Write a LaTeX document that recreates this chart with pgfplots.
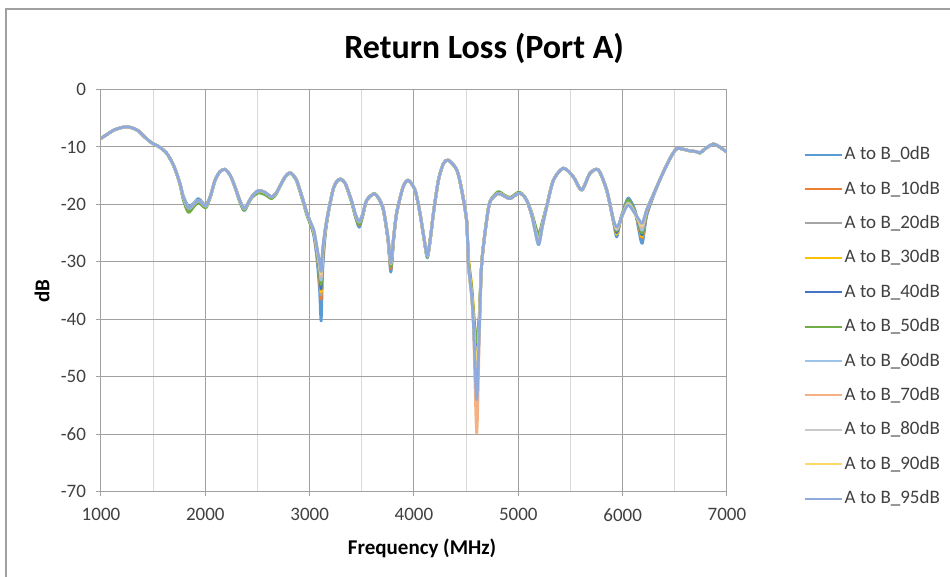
\documentclass[border=0pt]{standalone}
\usepackage{pgfplots}
\pgfplotsset{compat=1.18}
\usepackage{pgfplotstable}
\usepackage{fontspec}
\setmainfont{Carlito}
\definecolor{c0}{HTML}{5B9BD5}
\definecolor{c10}{HTML}{ED7D31}
\definecolor{c20}{HTML}{A5A5A5}
\definecolor{c30}{HTML}{FFC000}
\definecolor{c40}{HTML}{4472C4}
\definecolor{c50}{HTML}{70AD47}
\definecolor{c60}{HTML}{9DC3E6}
\definecolor{c70}{HTML}{F4B183}
\definecolor{c80}{HTML}{C9C9C9}
\definecolor{c90}{HTML}{FFD966}
\definecolor{c95}{HTML}{8FAADC}
\definecolor{gmaj}{HTML}{A0A0A0}
\definecolor{gmin}{HTML}{D9D9D9}
\definecolor{txt}{HTML}{404040}
\pgfplotstableread{
f a0 a10 a20 a30 a40 a50 a60 a70 a80 a90 a95
1000 -8.5 -8.5 -8.5 -8.5 -8.5 -8.5 -8.5 -8.5 -8.5 -8.5 -8.5
1060 -7.8 -7.8 -7.8 -7.8 -7.8 -7.8 -7.8 -7.8 -7.8 -7.8 -7.8
1120 -7.1 -7.1 -7.1 -7.1 -7.1 -7.1 -7.1 -7.1 -7.1 -7.1 -7.1
1180 -6.7 -6.7 -6.7 -6.7 -6.7 -6.7 -6.7 -6.7 -6.7 -6.7 -6.7
1246 -6.5 -6.5 -6.5 -6.5 -6.5 -6.5 -6.5 -6.5 -6.5 -6.5 -6.5
1300 -6.7 -6.7 -6.7 -6.7 -6.7 -6.7 -6.7 -6.7 -6.7 -6.7 -6.7
1358 -7.2 -7.2 -7.2 -7.2 -7.2 -7.2 -7.2 -7.2 -7.2 -7.2 -7.2
1420 -8.3 -8.3 -8.3 -8.3 -8.3 -8.3 -8.3 -8.3 -8.3 -8.3 -8.3
1486 -9.3 -9.3 -9.3 -9.3 -9.3 -9.3 -9.3 -9.3 -9.3 -9.3 -9.3
1540 -9.8 -9.8 -9.8 -9.8 -9.8 -9.8 -9.8 -9.8 -9.8 -9.8 -9.8
1582 -10.3 -10.3 -10.3 -10.3 -10.3 -10.3 -10.3 -10.3 -10.3 -10.3 -10.3
1625 -11.0 -11.0 -11.0 -11.0 -11.0 -11.0 -11.0 -11.0 -11.0 -11.0 -11.0
1661 -12.0 -12.0 -12.0 -12.0 -12.0 -12.0 -12.0 -12.0 -12.0 -12.0 -12.0
1695 -13.2 -13.2 -13.2 -13.2 -13.2 -13.2 -13.2 -13.2 -13.2 -13.2 -13.2
1725 -14.6 -14.6 -14.6 -14.6 -14.6 -14.7 -14.6 -14.6 -14.6 -14.6 -14.6
1760 -16.6 -16.7 -16.6 -16.6 -16.6 -16.8 -16.6 -16.6 -16.6 -16.6 -16.6
1789 -18.5 -19.0 -18.8 -18.8 -18.8 -19.2 -18.7 -18.7 -18.7 -18.7 -18.7
1837 -20.3 -21.0 -20.7 -20.8 -20.8 -21.4 -20.7 -20.6 -20.6 -20.6 -20.6
1890 -19.8 -20.1 -20.0 -20.0 -20.0 -20.4 -20.0 -20.0 -20.0 -20.0 -20.0
1933 -19.0 -19.4 -19.3 -19.3 -19.3 -19.7 -19.3 -19.3 -19.3 -19.3 -19.3
1970 -19.6 -19.9 -19.8 -19.8 -19.8 -20.2 -19.8 -19.8 -19.8 -19.8 -19.8
2006 -20.1 -20.4 -20.3 -20.3 -20.3 -20.6 -20.3 -20.3 -20.3 -20.3 -20.3
2050 -18.5 -18.5 -18.5 -18.5 -18.5 -18.7 -18.5 -18.5 -18.5 -18.5 -18.5
2093 -15.8 -15.8 -15.8 -15.8 -15.8 -15.9 -15.8 -15.8 -15.8 -15.8 -15.8
2140 -14.3 -14.3 -14.3 -14.3 -14.3 -14.3 -14.3 -14.3 -14.3 -14.3 -14.3
2189 -13.9 -13.9 -13.9 -13.9 -13.9 -13.9 -13.9 -13.9 -13.9 -13.9 -13.9
2240 -15.0 -15.0 -15.0 -15.0 -15.0 -15.0 -15.0 -15.0 -15.0 -15.0 -15.0
2285 -17.0 -17.0 -17.0 -17.0 -17.0 -17.1 -17.0 -17.0 -17.0 -17.0 -17.0
2330 -19.4 -19.3 -19.3 -19.3 -19.3 -19.6 -19.3 -19.3 -19.3 -19.3 -19.3
2371 -21.1 -20.9 -20.8 -20.8 -20.8 -21.0 -20.7 -20.7 -20.7 -20.7 -20.7
2410 -19.9 -19.8 -19.8 -19.8 -19.8 -20.0 -19.8 -19.8 -19.8 -19.8 -19.8
2444 -18.7 -18.7 -18.7 -18.7 -18.7 -18.9 -18.7 -18.7 -18.7 -18.7 -18.7
2508 -17.6 -17.7 -17.6 -17.6 -17.6 -18.0 -17.6 -17.6 -17.6 -17.6 -17.6
2570 -17.9 -18.0 -17.9 -17.9 -17.9 -18.3 -17.9 -17.9 -17.9 -17.9 -17.9
2636 -18.7 -18.8 -18.7 -18.7 -18.7 -19.0 -18.7 -18.7 -18.7 -18.7 -18.7
2680 -18.0 -18.0 -18.0 -18.0 -18.0 -18.2 -18.0 -18.0 -18.0 -18.0 -18.0
2716 -16.8 -16.8 -16.8 -16.8 -16.8 -16.9 -16.8 -16.8 -16.8 -16.8 -16.8
2765 -15.2 -15.2 -15.2 -15.2 -15.2 -15.3 -15.2 -15.2 -15.2 -15.2 -15.2
2812 -14.5 -14.5 -14.5 -14.5 -14.5 -14.6 -14.5 -14.5 -14.5 -14.5 -14.5
2870 -15.6 -15.6 -15.6 -15.6 -15.6 -15.8 -15.6 -15.6 -15.6 -15.6 -15.6
2927 -18.7 -18.8 -18.7 -18.7 -18.7 -19.0 -18.7 -18.7 -18.7 -18.7 -18.7
2970 -21.5 -21.4 -21.3 -21.3 -21.3 -21.7 -21.3 -21.3 -21.3 -21.3 -21.3
3005 -23.3 -23.2 -23.1 -23.1 -23.1 -23.4 -23.0 -23.0 -23.0 -23.0 -23.0
3040 -25.5 -25.0 -24.9 -24.9 -24.8 -25.0 -24.7 -24.6 -24.6 -24.6 -24.5
3070 -29.5 -28.7 -28.5 -28.4 -28.2 -28.1 -27.9 -27.7 -27.6 -27.5 -27.5
3095 -35.0 -32.8 -32.4 -32.1 -31.8 -31.4 -31.0 -30.6 -30.4 -30.3 -30.1
3110 -40.3 -36.5 -35.8 -35.3 -34.7 -34.0 -33.2 -32.5 -32.2 -32.0 -31.7
3125 -31.5 -29.8 -29.5 -29.3 -29.1 -28.8 -28.5 -28.2 -28.0 -27.9 -27.8
3150 -25.3 -24.8 -24.7 -24.6 -24.5 -24.5 -24.4 -24.3 -24.2 -24.2 -24.2
3180 -21.5 -21.3 -21.2 -21.2 -21.2 -21.2 -21.2 -21.2 -21.2 -21.2 -21.2
3225 -17.4 -17.4 -17.4 -17.4 -17.4 -17.4 -17.4 -17.4 -17.4 -17.4 -17.4
3260 -16.0 -16.0 -16.0 -16.0 -16.0 -16.1 -16.0 -16.0 -16.0 -16.0 -16.0
3295 -15.6 -15.6 -15.6 -15.6 -15.6 -15.7 -15.6 -15.6 -15.6 -15.6 -15.6
3340 -16.3 -16.3 -16.3 -16.3 -16.3 -16.4 -16.3 -16.3 -16.3 -16.3 -16.3
3400 -19.3 -19.3 -19.3 -19.3 -19.3 -19.6 -19.3 -19.3 -19.3 -19.3 -19.3
3440 -22.2 -22.0 -21.9 -21.9 -21.9 -22.2 -21.8 -21.8 -21.8 -21.8 -21.8
3475 -24.0 -23.6 -23.3 -23.3 -23.3 -23.5 -23.1 -23.0 -23.0 -23.0 -23.0
3510 -21.9 -21.8 -21.7 -21.7 -21.7 -21.9 -21.6 -21.6 -21.6 -21.6 -21.6
3546 -19.3 -19.3 -19.3 -19.3 -19.3 -19.4 -19.3 -19.3 -19.3 -19.3 -19.3
3625 -18.2 -18.2 -18.2 -18.2 -18.2 -18.1 -18.2 -18.2 -18.2 -18.2 -18.2
3700 -20.6 -20.5 -20.4 -20.4 -20.4 -20.5 -20.4 -20.4 -20.4 -20.4 -20.4
3750 -26.2 -26.0 -25.8 -25.8 -25.8 -25.9 -25.7 -25.7 -25.7 -25.7 -25.7
3778 -31.8 -31.2 -30.8 -30.7 -30.6 -30.8 -30.4 -30.3 -30.2 -30.2 -30.2
3805 -26.3 -26.0 -25.8 -25.8 -25.8 -25.9 -25.7 -25.7 -25.7 -25.7 -25.7
3834 -21.5 -21.5 -21.5 -21.5 -21.5 -21.5 -21.5 -21.5 -21.5 -21.5 -21.5
3895 -17.0 -17.0 -17.0 -17.0 -17.0 -17.0 -17.0 -17.0 -17.0 -17.0 -17.0
3945 -15.8 -15.8 -15.8 -15.8 -15.8 -15.9 -15.8 -15.8 -15.8 -15.8 -15.8
4010 -17.5 -17.5 -17.5 -17.5 -17.5 -17.6 -17.5 -17.5 -17.5 -17.5 -17.5
4058 -21.6 -21.6 -21.6 -21.6 -21.6 -21.7 -21.6 -21.6 -21.6 -21.6 -21.6
4095 -25.8 -25.8 -25.8 -25.8 -25.8 -25.9 -25.8 -25.8 -25.8 -25.8 -25.8
4128 -29.3 -29.1 -29.0 -29.0 -29.0 -29.2 -29.0 -29.0 -29.0 -29.0 -29.0
4160 -25.5 -25.5 -25.5 -25.5 -25.5 -25.6 -25.5 -25.5 -25.5 -25.5 -25.5
4186 -21.6 -21.6 -21.6 -21.6 -21.6 -21.6 -21.6 -21.6 -21.6 -21.6 -21.6
4234 -15.8 -15.8 -15.8 -15.8 -15.8 -15.8 -15.8 -15.8 -15.8 -15.8 -15.8
4282 -12.9 -12.9 -12.9 -12.9 -12.9 -12.9 -12.9 -12.9 -12.9 -12.9 -12.9
4330 -12.3 -12.3 -12.3 -12.3 -12.3 -12.3 -12.3 -12.3 -12.3 -12.3 -12.3
4410 -14.0 -14.0 -14.0 -14.0 -14.0 -14.0 -14.0 -14.0 -14.0 -14.0 -14.0
4457 -17.5 -17.5 -17.5 -17.4 -17.5 -17.4 -17.5 -17.5 -17.5 -17.5 -17.5
4505 -23.0 -23.0 -22.9 -22.7 -22.9 -22.8 -23.0 -23.0 -23.0 -23.0 -23.0
4521 -30.3 -30.0 -29.8 -29.0 -29.9 -29.4 -30.3 -30.3 -30.3 -30.3 -30.3
4553 -36.0 -35.6 -35.2 -34.0 -35.4 -34.6 -36.0 -36.0 -36.0 -36.0 -36.0
4570 -40.5 -40.0 -39.3 -38.0 -39.6 -38.8 -40.8 -41.0 -40.5 -40.5 -40.8
4601 -50.0 -48.0 -47.0 -45.0 -46.0 -44.0 -52.0 -59.8 -51.0 -49.0 -54.0
4625 -41.5 -41.0 -40.5 -40.0 -40.5 -39.5 -42.0 -44.0 -41.8 -41.5 -42.5
4649 -30.3 -30.3 -30.3 -30.3 -30.3 -30.2 -30.3 -30.3 -30.3 -30.3 -30.3
4697 -22.7 -22.7 -22.7 -22.7 -22.7 -22.6 -22.7 -22.7 -22.7 -22.7 -22.7
4730 -19.5 -19.5 -19.5 -19.5 -19.5 -19.4 -19.5 -19.5 -19.5 -19.5 -19.5
4805 -18.1 -18.1 -18.1 -18.1 -18.1 -17.8 -18.1 -18.1 -18.1 -18.1 -18.1
4860 -18.5 -18.5 -18.5 -18.5 -18.5 -18.3 -18.5 -18.5 -18.5 -18.5 -18.5
4920 -19.0 -19.0 -19.0 -19.0 -19.0 -18.8 -19.0 -19.0 -19.0 -19.0 -19.0
4997 -18.1 -18.1 -18.1 -18.1 -18.1 -17.9 -18.1 -18.1 -18.1 -18.1 -18.1
5040 -18.3 -18.3 -18.3 -18.3 -18.3 -18.2 -18.3 -18.3 -18.3 -18.3 -18.3
5080 -19.3 -19.3 -19.3 -19.3 -19.3 -19.2 -19.3 -19.3 -19.3 -19.3 -19.3
5128 -21.9 -21.8 -21.6 -21.7 -21.7 -21.4 -21.8 -21.8 -21.8 -21.8 -21.8
5192 -27.0 -26.0 -25.6 -25.8 -25.9 -25.2 -26.2 -26.4 -26.6 -26.7 -26.8
5230 -24.0 -23.5 -23.3 -23.4 -23.4 -23.0 -23.6 -23.7 -23.8 -23.8 -23.8
5272 -20.4 -20.4 -20.4 -20.4 -20.4 -20.2 -20.4 -20.4 -20.4 -20.4 -20.4
5336 -15.8 -15.8 -15.8 -15.8 -15.8 -15.8 -15.8 -15.8 -15.8 -15.8 -15.8
5431 -13.7 -13.7 -13.7 -13.7 -13.7 -13.7 -13.7 -13.7 -13.7 -13.7 -13.7
5527 -15.2 -15.2 -15.2 -15.2 -15.2 -15.2 -15.2 -15.2 -15.2 -15.2 -15.2
5607 -17.5 -17.5 -17.5 -17.5 -17.5 -17.5 -17.5 -17.5 -17.5 -17.5 -17.5
5687 -14.6 -14.6 -14.6 -14.6 -14.6 -14.6 -14.6 -14.6 -14.6 -14.6 -14.6
5767 -14.0 -14.0 -14.0 -14.0 -14.0 -14.0 -14.0 -14.0 -14.0 -14.0 -14.0
5847 -17.5 -17.5 -17.5 -17.5 -17.5 -17.6 -17.5 -17.5 -17.5 -17.5 -17.5
5911 -23.0 -22.8 -22.8 -22.9 -22.8 -22.7 -22.7 -22.7 -22.7 -22.7 -22.7
5943 -25.7 -25.0 -24.8 -25.2 -24.9 -24.6 -24.4 -24.3 -24.2 -24.1 -24.0
5975 -23.0 -23.0 -23.0 -23.1 -23.0 -22.9 -23.0 -23.0 -23.0 -23.0 -23.0
6007 -21.0 -21.2 -21.3 -21.3 -21.3 -21.2 -21.4 -21.5 -21.5 -21.5 -21.5
6054 -18.9 -19.3 -19.4 -19.3 -19.4 -19.2 -19.7 -19.9 -20.0 -20.0 -20.1
6118 -21.0 -21.3 -21.4 -21.4 -21.4 -21.3 -21.5 -21.6 -21.6 -21.6 -21.6
6155 -24.5 -23.8 -23.6 -23.7 -23.5 -23.3 -23.0 -22.9 -22.8 -22.8 -22.6
6188 -26.8 -25.8 -25.5 -25.6 -25.3 -25.0 -24.5 -24.0 -23.7 -23.5 -23.3
6230 -22.0 -21.5 -21.3 -21.3 -21.2 -21.1 -21.0 -21.0 -21.0 -21.0 -21.0
6290 -18.8 -18.6 -18.5 -18.5 -18.5 -18.5 -18.5 -18.5 -18.5 -18.5 -18.5
6350 -16.0 -16.0 -16.0 -16.0 -16.0 -16.0 -16.0 -16.0 -16.0 -16.0 -16.0
6410 -13.6 -13.6 -13.6 -13.6 -13.6 -13.6 -13.6 -13.6 -13.6 -13.6 -13.6
6470 -11.5 -11.5 -11.5 -11.5 -11.5 -11.5 -11.5 -11.5 -11.5 -11.5 -11.5
6518 -10.3 -10.3 -10.3 -10.3 -10.3 -10.3 -10.3 -10.3 -10.3 -10.3 -10.3
6580 -10.4 -10.4 -10.4 -10.4 -10.4 -10.4 -10.4 -10.4 -10.4 -10.4 -10.4
6646 -10.7 -10.7 -10.7 -10.7 -10.7 -10.7 -10.7 -10.7 -10.7 -10.7 -10.7
6700 -10.8 -10.8 -10.8 -10.8 -10.8 -10.8 -10.8 -10.8 -10.8 -10.8 -10.8
6742 -11.0 -11.0 -11.0 -11.0 -11.0 -11.1 -11.0 -11.0 -11.0 -11.0 -11.0
6800 -10.2 -10.2 -10.2 -10.2 -10.2 -10.2 -10.2 -10.2 -10.2 -10.2 -10.2
6869 -9.5 -9.5 -9.5 -9.5 -9.5 -9.5 -9.5 -9.5 -9.5 -9.5 -9.5
6920 -9.9 -9.9 -9.9 -9.9 -9.9 -9.9 -9.9 -9.9 -9.9 -9.9 -9.9
7000 -10.9 -10.9 -10.9 -10.9 -10.9 -10.9 -10.9 -10.9 -10.9 -10.9 -10.9
}\rl
\begin{document}
\begin{tikzpicture}
\useasboundingbox (0,0) rectangle (475pt,288.5pt);
\draw[color=gmaj, line width=0.6pt] (3pt,0pt) -- (3pt,284pt) -- (475pt,284pt);
\begin{axis}[
  at={(50.5pt,42.75pt)}, anchor=south west,
  scale only axis, width=313pt, height=201pt,
  xmin=1000, xmax=7000, ymin=-70, ymax=0,
  xtick={1000,2000,...,7000}, ytick={-70,-60,...,0},
  minor xtick={1500,2500,...,6500},
  grid=both,
  major grid style={draw=gmaj, line width=0.5pt},
  minor grid style={draw=gmin, line width=0.5pt},
  axis line style={draw=gmaj, line width=0.5pt},
  tick style={draw=gmaj, line width=0.5pt},
  tickpos=left, tick align=outside,
  major tick length=2.5pt, minor tick length=0pt,
  ticklabel style={font=\fontsize{9.5}{11}\selectfont, text=txt},
  /pgf/number format/assume math mode=true,
  /pgf/number format/1000 sep={},
  yticklabel style={xshift=-1.5pt},
  xticklabel style={yshift=-2.5pt},
  title={Return Loss (Port A)},
  title style={font=\bfseries\fontsize{17}{20}\selectfont, at={(axis description cs:0.612,1.073)}, anchor=center},
  xlabel={Frequency (MHz)},
  xlabel style={font=\bfseries\fontsize{10.5}{12}\selectfont, at={(axis description cs:0.513,-0.141)}, anchor=center},
  ylabel={dB},
  ylabel style={font=\bfseries\fontsize{10.5}{12}\selectfont, at={(axis description cs:-0.094,0.499)}, anchor=center, rotate=0},
  legend cell align=left,
  legend image code/.code={\draw[#1, line width=1pt] (0pt,0pt) -- (18.5pt,0pt);},
  legend style={at={(axis description cs:1.122,0.882)}, anchor=north west, draw=none, fill=none,
    font=\fontsize{9.5}{11}\selectfont, text=txt, inner sep=0pt, row sep=0pt, column sep=1pt,
    nodes={inner sep=0pt, minimum height=17.2pt}},
  every axis plot/.append style={line width=1.4pt, no markers, line join=round, smooth, tension=0.45},
]
\addplot[c0] table[x=f,y=a0] {\rl};
\addlegendentry{A to B\_0dB}
\addplot[c10] table[x=f,y=a10] {\rl};
\addlegendentry{A to B\_10dB}
\addplot[c20] table[x=f,y=a20] {\rl};
\addlegendentry{A to B\_20dB}
\addplot[c30] table[x=f,y=a30] {\rl};
\addlegendentry{A to B\_30dB}
\addplot[c40] table[x=f,y=a40] {\rl};
\addlegendentry{A to B\_40dB}
\addplot[c50] table[x=f,y=a50] {\rl};
\addlegendentry{A to B\_50dB}
\addplot[c60] table[x=f,y=a60] {\rl};
\addlegendentry{A to B\_60dB}
\addplot[c70] table[x=f,y=a70] {\rl};
\addlegendentry{A to B\_70dB}
\addplot[c80] table[x=f,y=a80] {\rl};
\addlegendentry{A to B\_80dB}
\addplot[c90] table[x=f,y=a90] {\rl};
\addlegendentry{A to B\_90dB}
\addplot[c95] table[x=f,y=a95] {\rl};
\addlegendentry{A to B\_95dB}
\end{axis}
\end{tikzpicture}
\end{document}
